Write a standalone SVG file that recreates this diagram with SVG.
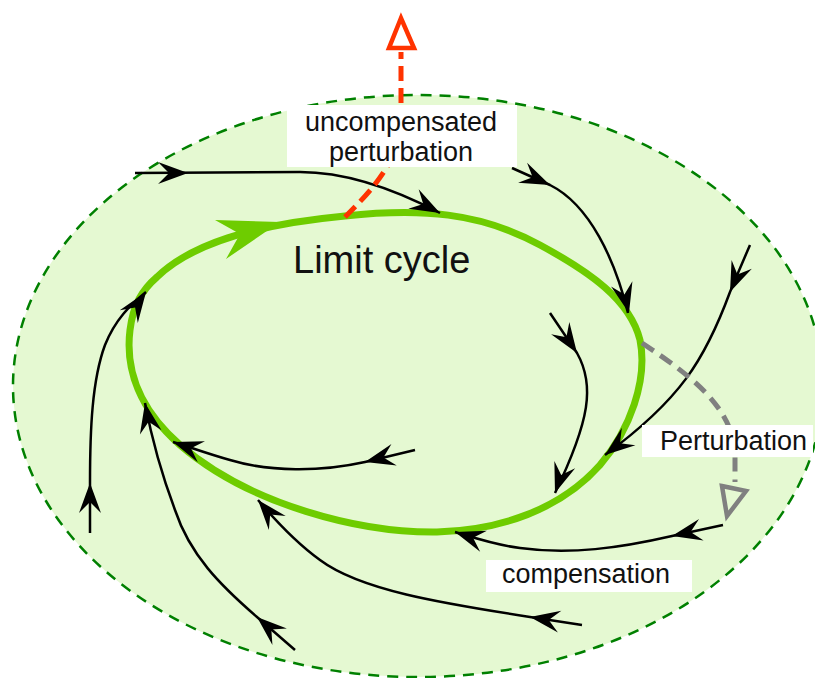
<svg xmlns="http://www.w3.org/2000/svg" xmlns:xlink="http://www.w3.org/1999/xlink" width="815" height="678" viewBox="0 0 815 678">
<style>
.traj{fill:none;stroke:#000;stroke-width:2.5}
.lbl{font-family:"Liberation Sans",Arial,sans-serif;font-size:27px;fill:#111}
.box{fill:#fff}
</style>
<defs>
<path id="ah" d="M0,0 L-30,-11 L-19,0 L-30,11 Z" fill="#000"/>
</defs>
<g id="basin">
<ellipse cx="418" cy="386" rx="405" ry="291" fill="#e5f9d2" stroke="#008000" stroke-width="2.5" stroke-dasharray="11,8"/>
</g>
<g id="limit-cycle">
<path d="M157,277 C190,245 250,225 345,216 C420,208 480,212 540,245 C590,272 630,300 640,340 C648,380 630,430 600,465 C560,510 500,530 437,532 C360,533 250,505 180,445 C140,410 125,370 130,330 C133,305 142,290 157,277 Z" fill="none" stroke="#6ecc00" stroke-width="7"/>
<path d="M280,222 L215,220 L240,234 L226,259 Z" fill="#6ecc00"/>
<text class="lbl" x="293" y="273" style="font-size:38px">Limit cycle</text>
</g>
<g id="connectors">
<path class="traj" d="M135,173 L300,172 C350,172 400,192 440,213"/>
<use xlink:href="#ah" transform="translate(188,173)"/>
<use xlink:href="#ah" transform="translate(440,213) rotate(28)"/>
<path class="traj" d="M512,168 L550,185 C590,205 615,260 628,313"/>
<use xlink:href="#ah" transform="translate(550,185) rotate(24)"/>
<use xlink:href="#ah" transform="translate(629,313) rotate(76)"/>
<path class="traj" d="M750,245 C740,268 735,280 730,292 C705,360 680,400 605,455"/>
<use xlink:href="#ah" transform="translate(730,292) rotate(113)"/>
<use xlink:href="#ah" transform="translate(605,455) rotate(142)"/>
<path class="traj" d="M550,313 L577,353 C595,385 590,420 555,493"/>
<use xlink:href="#ah" transform="translate(577,353) rotate(56)"/>
<use xlink:href="#ah" transform="translate(555,493) rotate(109)"/>
<path class="traj" d="M415,450 L365,462 C320,472 270,472 230,460 C205,453 190,447 173,442"/>
<use xlink:href="#ah" transform="translate(365,462) rotate(166)"/>
<use xlink:href="#ah" transform="translate(173,442) rotate(-161)"/>
<path class="traj" d="M723,525 L672,536 C620,548 570,555 520,548 C495,545 475,538 455,532"/>
<use xlink:href="#ah" transform="translate(672,536) rotate(168)"/>
<use xlink:href="#ah" transform="translate(455,532) rotate(-162)"/>
<path class="traj" d="M582,625 L530,617 C440,603 360,590 320,560 C295,542 275,520 258,500"/>
<use xlink:href="#ah" transform="translate(530,617) rotate(-171)"/>
<use xlink:href="#ah" transform="translate(258,500) rotate(-130)"/>
<path class="traj" d="M295,650 L257,617 C220,585 190,555 175,510 C160,470 152,440 145,403"/>
<use xlink:href="#ah" transform="translate(257,617) rotate(-139)"/>
<use xlink:href="#ah" transform="translate(145,403) rotate(-101)"/>
<path class="traj" d="M90,533 L90,483 C90,430 92,380 105,345 C115,320 130,305 146,292"/>
<use xlink:href="#ah" transform="translate(90,483) rotate(-90)"/>
<use xlink:href="#ah" transform="translate(146,292) rotate(-55)"/>
<path d="M642,343 C690,375 730,405 735,450 L735,482" fill="none" stroke="#808080" stroke-width="5" stroke-dasharray="14,8"/>
<polygon points="722,486 746,491 727,516" fill="none" stroke="#808080" stroke-width="4.5" stroke-linejoin="miter"/>
<path d="M345,217 C370,192 401,160 401,120 L401,52" fill="none" stroke="#ff3300" stroke-width="5" stroke-dasharray="15,7"/>
<polygon points="401,18 389,48 414,48" fill="#fff" stroke="#ff3300" stroke-width="4.5"/>
</g>
<g id="label-uncompensated">
<rect class="box" x="287" y="105" width="230" height="62"/>
<text class="lbl" x="401" y="131" text-anchor="middle">uncompensated</text>
<text class="lbl" x="401" y="161" text-anchor="middle">perturbation</text>
</g>
<g id="label-perturbation">
<rect class="box" x="642" y="425" width="171" height="32"/>
<text class="lbl" x="660" y="450">Perturbation</text>
</g>
<g id="label-compensation">
<rect class="box" x="486" y="560" width="206" height="32"/>
<text class="lbl" x="502" y="583">compensation</text>
</g>
</svg>
